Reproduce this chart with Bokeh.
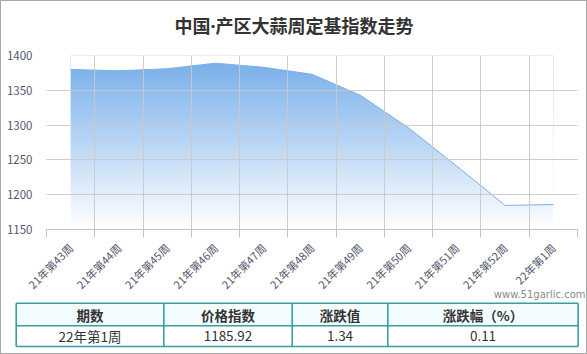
import numpy as np
from math import pi
from bokeh.plotting import figure
from bokeh.models import Range1d, FixedTicker, Title
from bokeh.layouts import column
from bokeh.embed import file_html
from bokeh.resources import INLINE
from bokeh.core.properties import value

weeks = ["21年第43周", "21年第44周", "21年第45周", "21年第46周", "21年第47周",
         "21年第48周", "21年第49周", "21年第50周", "21年第51周", "21年第52周", "22年第1周"]
index_values = [1380, 1378, 1381, 1389, 1383, 1373, 1343, 1296, 1241, 1184.58, 1185.92]
y_ticks = [1150, 1200, 1250, 1300, 1350, 1400]
table_headers = ["期数", "价格指数", "涨跌值", "涨跌幅（%）"]
table_row = ["22年第1周", "1185.92", "1.34", "0.11"]

title_text = "中国·产区大蒜周定基指数走势"
watermark = "www.51garlic.com"

FONT = "Noto Sans CJK SC"
n = len(weeks)
xs = np.arange(n) + 0.5
y_lo, y_hi = y_ticks[0], y_ticks[-1]

W = 585
TOP, FRAME_H, BOTTOM = 54, 174, 72
CH = TOP + FRAME_H + BOTTOM
p = figure(width=W, height=CH, x_range=Range1d(0, n), y_range=Range1d(y_lo, y_hi),
           output_backend="svg", toolbar_location=None, title_location=None,
           min_border_left=45, min_border_right=9, min_border_top=TOP, min_border_bottom=BOTTOM)
p.outline_line_color = None
p.background_fill_color = "white"
p.border_fill_color = "white"

# gradient fill under the curve
fill_bottom = 1160
grad_top = 1390
H = 240
rows = np.linspace(fill_bottom, y_hi, H)
t = np.clip((rows - fill_bottom) / (grad_top - fill_bottom), 0, 1)
top_rgb = np.array([122, 176, 234])
bot_rgb = np.array([250, 252, 255])
img = np.zeros((H, 1), dtype=np.uint32)
view = img.view(dtype=np.uint8).reshape((H, 1, 4))
for k in range(3):
    view[:, 0, k] = (bot_rgb[k] + (top_rgb[k] - bot_rgb[k]) * t).astype(np.uint8)
view[:, 0, 3] = 255
p.image_rgba(image=[img], x=xs[0], y=fill_bottom, dw=xs[-1] - xs[0], dh=y_hi - fill_bottom)
# mask above the curve
p.varea(x=xs, y1=index_values, y2=[y_hi] * n, fill_color="white")
p.line(xs, index_values, line_color="#7aafe8", line_width=1)

# axes
p.xaxis.ticker = FixedTicker(ticks=list(xs), minor_ticks=list(range(n + 1)))
p.xaxis.major_label_overrides = {float(x): w for x, w in zip(xs, weeks)}
p.xaxis.major_label_orientation = pi / 4
p.xaxis.axis_label = None
p.xaxis.major_tick_in = 0
p.xaxis.major_tick_out = 0
p.xaxis.minor_tick_in = 0
p.xaxis.minor_tick_out = 8
p.xaxis.minor_tick_line_color = "#b8c8dc"
p.xaxis.axis_line_color = "#b8c8dc"
p.xaxis.major_label_text_font = FONT
p.xaxis.major_label_text_font_size = "11px"
p.xaxis.major_label_text_color = "#55566a"
p.xaxis.major_label_standoff = 8

p.yaxis.ticker = FixedTicker(ticks=y_ticks)
p.yaxis.axis_label = None
p.yaxis.axis_line_color = None
p.yaxis.major_tick_in = 0
p.yaxis.major_tick_out = 0
p.yaxis.minor_tick_line_color = None
p.yaxis.major_label_text_font = FONT
p.yaxis.major_label_text_font_size = "11.5px"
p.yaxis.major_label_text_color = "#55566a"
p.yaxis.major_label_standoff = 14

p.xgrid.ticker = FixedTicker(ticks=list(range(n + 1)))
p.ygrid.ticker = FixedTicker(ticks=y_ticks[1:])
p.grid.grid_line_color = "#c9c9c9"
p.grid.grid_line_alpha = 0.9
p.grid.level = "overlay"

# spacer between frame and title, then the title
p.add_layout(Title(text=" ", text_font_size="14px", standoff=0), "above")
p.add_layout(Title(text=title_text, text_font="Noto Sans, Noto Sans CJK SC", text_font_size="18px",
                   text_font_style="bold", text_color="#333333", align="left",
                   offset=128, standoff=0), "above")

# table (with watermark above it); it overlaps the empty bottom strip of the chart
G0 = 289  # global y of table figure top
TH = 354 - 1 - G0
tb = figure(width=W, height=TH, x_range=Range1d(0, W), y_range=Range1d(TH, 0),
            output_backend="svg", toolbar_location=None, min_border=0, title_location=None)
tb.axis.visible = False
tb.grid.visible = False
tb.outline_line_color = None
tb.background_fill_alpha = 0
tb.border_fill_alpha = 0
col_edges = [14.7, 162.3, 290.7, 386.3, 576.7]
row_edges = [302.7 - G0, 325.3 - G0, 346.0 - G0]
tb.quad(left=col_edges[0], right=col_edges[-1], top=row_edges[0], bottom=row_edges[1],
        fill_color="#f3fcfe", line_color=None)
tb.segment(x0=[col_edges[0]] * 3, x1=[col_edges[-1]] * 3, y0=row_edges, y1=row_edges,
           line_color="#35a0a0", line_width=1.6)
tb.segment(x0=col_edges, x1=col_edges, y0=[row_edges[0]] * 5, y1=[row_edges[-1]] * 5,
           line_color="#35a0a0", line_width=1.6)
cx = [(a + b) / 2 for a, b in zip(col_edges[:-1], col_edges[1:])]
tb.text(x=cx, y=[(row_edges[0] + row_edges[1]) / 2] * 4, text=table_headers,
        text_font=value(FONT), text_font_size="13.5px", text_font_style="bold",
        text_color="#333333", text_align="center", text_baseline="middle")
tb.text(x=cx, y=[(row_edges[1] + row_edges[2]) / 2] * 4, text=table_row,
        text_font=value(FONT), text_font_size="13.5px",
        text_color="#333333", text_align="center", text_baseline="middle")
tb.text(x=[584], y=[294.3 - G0], text=[watermark], text_font=value("DejaVu Sans"),
        text_font_size="10px", text_color="#8a8a8a", text_align="right", text_baseline="middle")

BORDER = "1px solid #a8a8a8"
overlap = (1 + CH) - G0
top_box = column(p, spacing=0, styles={"border-left": BORDER, "border-right": BORDER, "border-top": BORDER})
bottom_box = column(tb, spacing=0, styles={"border-left": BORDER, "border-right": BORDER,
                                           "border-bottom": BORDER, "margin-top": f"-{overlap}px",
                                           "position": "relative"})
open("out.html", "w").write(file_html([top_box, bottom_box], INLINE))
